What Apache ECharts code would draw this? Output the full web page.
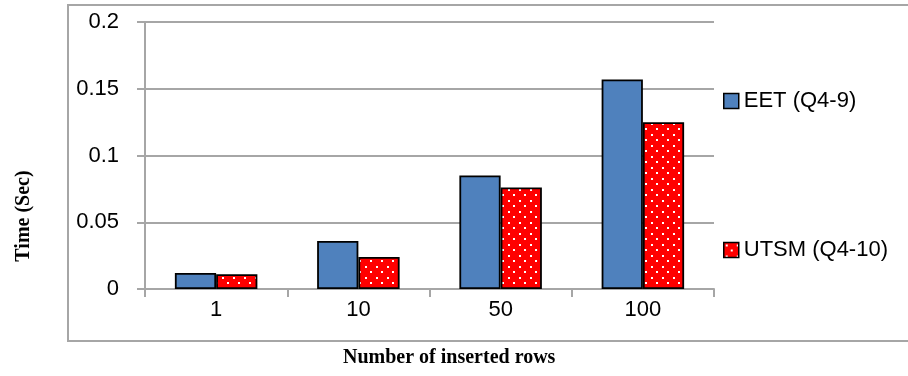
<!DOCTYPE html>
<html>
<head>
<meta charset="utf-8">
<script src="https://cdn.jsdelivr.net/npm/echarts@6/dist/echarts.min.js"></script>
<style>html,body{margin:0;padding:0;background:#fff;}#c{width:908px;height:376px;}</style>
</head>
<body>
<div id="c"></div>
<script>
const categories = ['1', '10', '50', '100'];
const eetValues = [0.012, 0.036, 0.085, 0.157];
const utsmValues = [0.011, 0.024, 0.076, 0.125];
const seriesNames = ['EET (Q4-9)', 'UTSM (Q4-10)'];
const xAxisTitle = 'Number of inserted rows';
const yAxisTitle = 'Time (Sec)';

function makePattern() {
  const c = document.createElement('canvas');
  c.width = 11; c.height = 11;
  const g = c.getContext('2d');
  g.fillStyle = '#ff0000';
  g.fillRect(0, 0, 11, 11);
  g.fillStyle = '#ffffff';
  g.fillRect(2, 2, 2, 2);
  g.fillRect(7, 7, 2, 2);
  return c;
}
const pattern = { image: makePattern(), repeat: 'repeat' };

const chart = echarts.init(document.getElementById('c'), null, { renderer: 'canvas' });
const sansFont = 'Liberation Sans';
const serifFont = 'Liberation Serif';
const legendText = { fontFamily: sansFont, fontSize: 22, color: '#000', lineHeight: 22 };
chart.setOption({
  animation: false,
  backgroundColor: '#fff',
  grid: { left: 145, right: 194, top: 22, bottom: 87 },
  legend: [
    {
      data: [seriesNames[0]], left: 723, top: 90, padding: 0, itemWidth: 15, itemHeight: 15, itemGap: 0,
      icon: 'rect', itemStyle: { borderColor: '#000', borderWidth: 1.5 },
      textStyle: legendText
    },
    {
      data: [seriesNames[1]], left: 723, top: 239, padding: 0, itemWidth: 15, itemHeight: 15, itemGap: 0,
      icon: 'rect', itemStyle: { borderColor: '#000', borderWidth: 1.5 },
      textStyle: legendText
    }
  ],
  xAxis: {
    type: 'category', data: categories,
    axisLine: { lineStyle: { color: '#a6a6a6', width: 2 } },
    axisTick: { show: true, length: 8, lineStyle: { color: '#a6a6a6', width: 2 } },
    axisLabel: { fontFamily: sansFont, fontSize: 22, color: '#000', margin: 10 }
  },
  yAxis: {
    type: 'value', min: 0, max: 0.2, interval: 0.05,
    axisLine: { show: true, lineStyle: { color: '#a6a6a6', width: 2 } },
    axisTick: { show: true, length: 8, lineStyle: { color: '#a6a6a6', width: 2 } },
    splitLine: { lineStyle: { color: '#a6a6a6', width: 2 } },
    axisLabel: { fontFamily: sansFont, fontSize: 22, color: '#000', margin: 26 }
  },
  series: [
    {
      name: seriesNames[0], type: 'bar', data: eetValues,
      barGap: '0%', barCategoryGap: '42%',
      itemStyle: { color: '#4f81bd', borderColor: '#000', borderWidth: 1.8 }
    },
    {
      name: seriesNames[1], type: 'bar', data: utsmValues,
      barGap: '0%', barCategoryGap: '42%',
      itemStyle: { color: pattern, borderColor: '#000', borderWidth: 1.8 }
    }
  ],
  graphic: [
    {
      type: 'rect', z: -1, silent: true,
      shape: { x: 68, y: 5, width: 900, height: 336 },
      style: { fill: 'none', stroke: '#a6a6a6', lineWidth: 2 }
    },
    {
      type: 'text', left: 343, top: 348,
      style: { text: xAxisTitle, fontFamily: serifFont, fontWeight: 'bold', fontSize: 20, fill: '#000' }
    },
    {
      type: 'text', x: 24, y: 216, rotation: Math.PI / 2,
      style: { text: yAxisTitle, fontFamily: serifFont, fontWeight: 'bold', fontSize: 20, fill: '#000', align: 'center', verticalAlign: 'middle' }
    }
  ]
});
</script>
</body>
</html>
